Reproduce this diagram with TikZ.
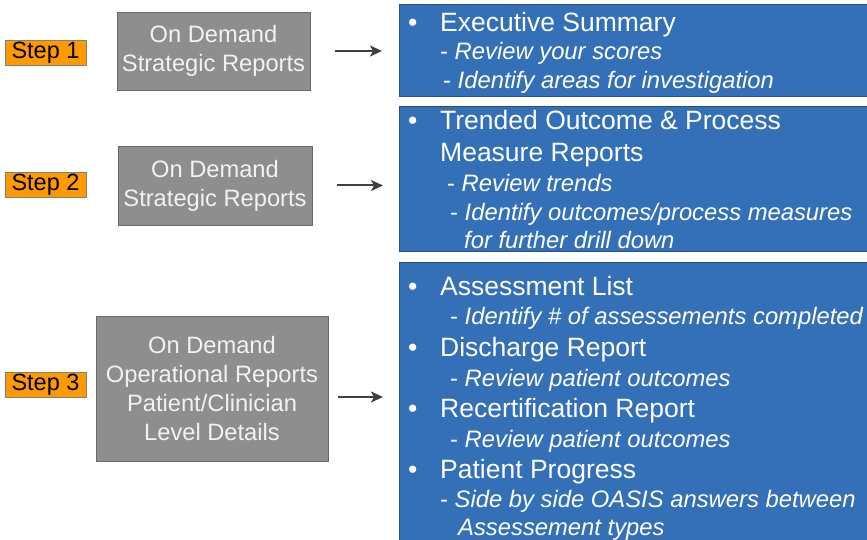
\documentclass[tikz,border=0pt]{standalone}
\usepackage{fontspec}
\setmainfont{Liberation Sans}
\usetikzlibrary{arrows.meta}

\definecolor{stepfill}{HTML}{FF9900}
\definecolor{greyfill}{HTML}{8E8E8E}
\definecolor{greyedge}{HTML}{6A6A6A}
\definecolor{bluefill}{HTML}{3470B8}
\definecolor{blueedge}{HTML}{2A4E7E}
\definecolor{arrowgrey}{HTML}{404040}

\tikzset{
  steplabel/.style={draw=gray, fill=stepfill, minimum width=81pt, minimum height=25pt, inner sep=0pt, font=\fontsize{23.5}{28}\selectfont},
  reportbox/.style={draw=greyedge, line width=0.8pt, fill=greyfill, text=white!95!black, align=center, inner sep=0pt, font=\fontsize{23.7}{29}\selectfont},
  listbox/.style={draw=blueedge, line width=0.8pt, fill=bluefill, anchor=north west, inner sep=0pt},
  itemhead/.style={anchor=base west, text=white, inner sep=0pt, font=\fontsize{26.5}{30}\selectfont},
  itemsub/.style={anchor=base west, text=white, inner sep=0pt, font=\fontsize{23.8}{29}\selectfont},
  flow/.style={-{Stealth[length=12pt,width=11pt,inset=3pt]}, draw=arrowgrey, line width=2pt}
}

\begin{document}
\begin{tikzpicture}[x=1pt,y=-1pt]
  \useasboundingbox (0,0) rectangle (867,540);

  % steps
  \node[steplabel] (s1) at (45.5,52.5) {Step 1};
  \node[steplabel] (s2) at (45.5,184.5) {Step 2};
  \node[steplabel] (s3) at (45.5,384.5) {Step 3};

  % report boxes
  \node[reportbox, minimum width=193pt, minimum height=78pt] (g1) at (213.5,51) {On Demand\\Strategic Reports};
  \node[reportbox, minimum width=194pt, minimum height=79pt] (g2) at (215,185.5) {On Demand\\Strategic Reports};
  \node[reportbox, minimum width=232pt, minimum height=145pt] (g3) at (212,388.5) {On Demand\\Operational Reports\\Patient/Clinician\\Level Details};

  % list boxes
  \node[listbox, minimum width=475pt, minimum height=92pt] (b1) at (399,4) {};
  \node[listbox, minimum width=475pt, minimum height=145pt] (b2) at (399,106) {};
  \node[listbox, minimum width=475pt, minimum height=290pt] (b3) at (399,262) {};

  % box 1
  \node[itemhead] (b1dot) at (408,31.5) {•};
  \node[itemhead] (b1h) at (440,31.5) {Executive Summary};
  \node[itemsub] (b1s1) at (440,60) {- \textit{Review your scores}};
  \node[itemsub] (b1s2) at (443,88.5) {- \textit{Identify areas for investigation}};

  % box 2
  \node[itemhead] (b2dot) at (408,129.5) {•};
  \node[itemhead] (b2h) at (440,129.5) {Trended Outcome \& Process};
  \node[itemhead] (b2h2) at (440,161.5) {Measure Reports};
  \node[itemsub] (b2s1) at (447,191.5) {- \textit{Review trends}};
  \node[itemsub] (b2s2) at (450,220) {- \textit{Identify outcomes/process measures}};
  \node[itemsub] (b2s3) at (464,248.5) {\textit{for further drill down}};

  % box 3
  \node[itemhead] (b3dot1) at (408,295) {•};
  \node[itemhead] (b3h1) at (440,295) {Assessment List};
  \node[itemsub] (b3s1) at (450,324.5) {- \textit{Identify \# of assessements completed}};
  \node[itemhead] (b3dot2) at (408,356) {•};
  \node[itemhead] (b3h2) at (440,356) {Discharge Report};
  \node[itemsub] (b3s2) at (450,386) {- \textit{Review patient outcomes}};
  \node[itemhead] (b3dot3) at (408,417) {•};
  \node[itemhead] (b3h3) at (440,417) {Recertification Report};
  \node[itemsub] (b3s3) at (450,447) {- \textit{Review patient outcomes}};
  \node[itemhead] (b3dot4) at (408,478) {•};
  \node[itemhead] (b3h4) at (440,478) {Patient Progress};
  \node[itemsub] (b3s4) at (440,507.5) {- \textit{Side by side OASIS answers between}};
  \node[itemsub] (b3s5) at (458,535.5) {\textit{Assessement types}};

  % arrows
  \draw[flow, shorten <=25pt, shorten >=17pt] (g1.east) -- (g1.east -| b1.west);
  \draw[flow, shorten <=25pt, shorten >=16pt] (g2.east) -- (g2.east -| b2.west);
  \draw[flow, shorten <=10pt, shorten >=16pt] ([yshift=-8.5pt]g3.east) -- ([yshift=-8.5pt]g3.east -| b3.west);
\end{tikzpicture}
\end{document}
